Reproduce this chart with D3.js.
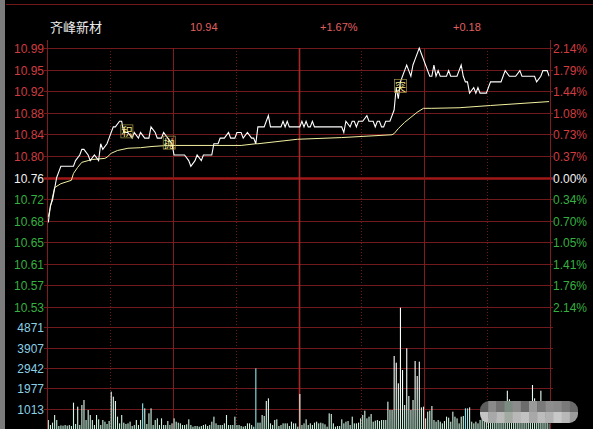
<!DOCTYPE html>
<html><head><meta charset="utf-8">
<script src="https://cdn.jsdelivr.net/npm/d3@7"></script>
<style>html,body{margin:0;padding:0;background:#000;overflow:hidden}</style>
</head><body>
<svg id="c" width="593" height="429"></svg>
<script>
// ---------------- data ----------------
const stockName = "齐峰新材";
const headerValues = ["10.94", "+1.67%", "+0.18"];
const preClose = 10.76;
const maxPct = 0.0214;
const priceTicks = ["10.99","10.95","10.92","10.88","10.84","10.80","10.76","10.72","10.68","10.65","10.61","10.57","10.53"];
const pctTicks = ["2.14%","1.79%","1.44%","1.08%","0.73%","0.37%","0.00%","0.34%","0.70%","1.05%","1.41%","1.76%","2.14%"];
const volTicks = [4871, 3907, 2942, 1977, 1013];

// price line: [minute, price]
const pricePts = [[0,10.68],[1,10.71],[2,10.72],[3,10.74],[4,10.76],[5,10.77],[6,10.78],[7,10.78],[9,10.78],[10,10.78],[12,10.78],[13,10.79],[15,10.80],[16,10.81],[17,10.81],[19,10.80],[20,10.79],[22,10.80],[24,10.79],[25,10.82],[26,10.81],[28,10.82],[29,10.83],[31,10.85],[32,10.85],[34,10.86],[35,10.86],[36,10.84],[38,10.84],[40,10.83],[41,10.84],[43,10.83],[44,10.84],[46,10.83],[48,10.83],[49,10.85],[51,10.84],[52,10.83],[54,10.83],[55,10.84],[57,10.83],[59,10.82],[60,10.80],[62,10.80],[64,10.80],[65,10.80],[67,10.79],[68,10.78],[70,10.79],[71,10.80],[73,10.79],[74,10.80],[78,10.80],[79,10.82],[81,10.82],[82,10.83],[84,10.83],[86,10.84],[87,10.83],[89,10.83],[90,10.84],[92,10.84],[93,10.83],[95,10.84],[97,10.83],[98,10.83],[99,10.82],[100,10.85],[103,10.85],[104,10.86],[105,10.87],[106,10.85],[111,10.85],[112,10.86],[113,10.85],[114,10.86],[115,10.85],[120,10.85],[121,10.86],[122,10.85],[123,10.86],[124,10.85],[125,10.85],[126,10.86],[127,10.85],[139,10.85],[140,10.85],[141,10.84],[142,10.86],[144,10.85],[145,10.86],[146,10.86],[147,10.85],[148,10.86],[150,10.86],[152,10.87],[153,10.86],[155,10.86],[156,10.85],[157,10.86],[158,10.86],[159,10.85],[160,10.85],[161,10.86],[162,10.86],[163,10.86],[164,10.87],[165,10.88],[166,10.92],[167,10.90],[168,10.93],[169,10.94],[170,10.95],[171,10.96],[172,10.95],[173,10.94],[174,10.96],[175,10.97],[177,10.99],[178,10.98],[179,10.97],[180,10.96],[181,10.95],[182,10.94],[183,10.94],[184,10.96],[185,10.94],[186,10.95],[187,10.94],[190,10.94],[191,10.95],[192,10.94],[195,10.94],[196,10.95],[197,10.96],[198,10.94],[199,10.93],[200,10.93],[201,10.91],[203,10.92],[204,10.91],[205,10.92],[206,10.91],[209,10.91],[210,10.92],[211,10.93],[216,10.93],[217,10.94],[218,10.95],[220,10.94],[221,10.94],[223,10.94],[225,10.95],[226,10.94],[228,10.94],[230,10.94],[232,10.94],[233,10.93],[235,10.94],[236,10.95],[238,10.95],[239,10.94]];

// average price line: [minute, price]
const avgPts = [[0,10.69],[3,10.742],[6,10.749],[11,10.755],[12,10.767],[14,10.778],[16,10.787],[19,10.790],[21,10.792],[27,10.794],[28,10.796],[30,10.803],[33,10.808],[38,10.812],[44,10.813],[49,10.815],[57,10.817],[92,10.817],[99,10.820],[100,10.820],[119,10.828],[140,10.831],[164,10.836],[165,10.838],[167,10.847],[170,10.858],[173,10.867],[176,10.876],[179,10.883],[183,10.883],[196,10.884],[211,10.888],[227,10.892],[239,10.895]];

// per-minute volume
const volume = [
 474,237,348,712,474,190,221,206,237,206,
 237,190,1297,285,1107,237,1186,1423,474,949,
 712,474,237,712,506,237,474,395,285,427,
 1818,1581,1376,633,316,712,348,285,316,395,
 190,237,474,237,474,1265,1028,285,791,1028,
 237,474,553,237,553,237,237,427,237,316,
 553,395,348,316,237,237,269,506,237,158,
 190,190,158,190,237,269,190,237,395,633,
 316,237,237,237,316,712,237,237,237,633,
 237,237,190,158,190,316,316,237,158,2925,
 348,348,712,664,1376,1502,316,237,474,506,
 190,237,316,316,316,190,395,316,316,158,
 1708,237,316,506,237,316,237,348,395,316,
 348,316,269,158,791,759,316,158,190,190,
 506,316,395,427,237,633,316,316,348,553,
 712,917,553,633,759,395,443,474,427,474,
 474,474,1344,949,949,3511,3194,2214,5803,2846,
 1186,3874,1613,949,1423,3273,2562,3242,1075,1107,
 553,870,917,1139,474,395,474,395,316,427,
 633,585,395,870,633,553,316,633,664,1028,
 1028,1075,395,316,395,316,474,553,633,712,
 553,474,633,791,553,474,633,712,870,1864,
 1456,633,553,712,791,633,553,474,633,712,
 870,2135,1502,791,633,1864,1028,553,474,316,
 237];
const downBars = [45, 99, 199, 200];

const markerText = ["积", "抛", "突"];
const markerMinute = [37.5, 57.7, 168];
const markerPrice = [10.842, 10.822, 10.923];

const watermarkTop = ["#5e5e5e","#8a8a8a","#727272","#7d8c82","#8c8c8c","#6c6c6c","#9a9a9a","#7a7a7a","#8e8e8e","#8a8a8a","#7a7a7a","#6a6a6a"];
const watermarkBottom = ["#c4c4c4","#a8a8a8","#bababa","#a2aaa2","#b8b8b8","#c2c2c2","#a8a8a8","#bcbcbc","#b2b2b2","#c8c8c8","#b8b8b8","#9c9c9c"];

// ---------------- drawing ----------------
const svg = d3.select("#c");
const L = 47, R = 550, T = 48, M = 307, B = 430;
const FONT = "'Liberation Sans', Arial, sans-serif";

const xT = d3.scaleLinear().domain([0, 240]).range([L, R]);
const OFF = 1.3;
const dev = preClose * maxPct;
const yP = d3.scaleLinear().domain([preClose - dev, preClose + dev]).range([M, T]);
const volStep = volTicks[0] - volTicks[1];
const yV = d3.scaleLinear().domain([0, volTicks[0] + volStep]).range([B, M]);

svg.append("rect").attr("width", 593).attr("height", 429).attr("fill", "#000");

// frame bits
svg.append("rect").attr("x", 0).attr("y", 0).attr("width", 5).attr("height", 429).attr("fill", "#7c7c7c");
svg.append("line").attr("x1", 6).attr("x2", 593).attr("y1", 4.5).attr("y2", 4.5)
  .attr("stroke", "#6e1818").attr("stroke-width", 1);

// header
svg.append("text").attr("x", 50).attr("y", 26).attr("dominant-baseline", "central")
  .attr("font-family", "'Noto Sans CJK SC', sans-serif").attr("font-size", 13)
  .attr("fill", "#ececec").text(stockName);
const headerX = [190, 320, 453];
headerValues.forEach((t, i) => {
  svg.append("text").attr("x", headerX[i]).attr("y", 26.5).attr("dominant-baseline", "central")
    .attr("font-family", FONT).attr("font-size", 11).attr("fill", "#e06060").text(t);
});

// horizontal price gridlines + labels
const tickY = i => Math.round(yP(preClose + dev * (6 - i) / 6)) + 0.5;
priceTicks.forEach((t, i) => {
  const y = tickY(i);
  const mid = i === 6;
  svg.append("line").attr("x1", 44).attr("x2", 553).attr("y1", y).attr("y2", y)
    .attr("stroke", mid ? "#a01818" : "#701a1e").attr("stroke-width", mid ? 2.5 : 1);
  const col = i < 6 ? "#d03c40" : (i === 6 ? "#f2f2f2" : "#36b040");
  svg.append("text").attr("x", 44).attr("y", y).attr("text-anchor", "end")
    .attr("dominant-baseline", "central").attr("font-family", FONT).attr("font-size", 12)
    .attr("fill", col).text(t);
  svg.append("text").attr("x", 553).attr("y", y).attr("text-anchor", "start")
    .attr("dominant-baseline", "central").attr("font-family", FONT).attr("font-size", 12)
    .attr("fill", col).text(pctTicks[i]);
});

// volume gridlines + labels
volTicks.forEach(v => {
  const y = Math.round(yV(v)) + 0.5;
  svg.append("line").attr("x1", 44).attr("x2", 553).attr("y1", y).attr("y2", y)
    .attr("stroke", "#701a1e").attr("stroke-width", 1);
  svg.append("text").attr("x", 44).attr("y", y).attr("text-anchor", "end")
    .attr("dominant-baseline", "central").attr("font-family", FONT).attr("font-size", 12)
    .attr("fill", "#8ad0e6").text(v);
});

// vertical gridlines every 30 minutes
d3.range(0, 241, 30).forEach((m, k) => {
  const x = Math.round(xT(m)) + 0.5;
  const border = k === 0 || k === 8;
  const noon = k === 4;
  const solid = k % 2 === 0;
  svg.append("line").attr("x1", x).attr("x2", x).attr("y1", border ? 40 : T).attr("y2", 429)
    .attr("stroke", noon ? "#a82828" : (solid ? "#801c20" : "#6a1a1e"))
    .attr("stroke-width", noon ? 1.6 : 1)
    .attr("stroke-dasharray", solid ? null : "1,2");
});

// clip for data
const defs = svg.append("defs");
defs.append("clipPath").attr("id", "plot").append("rect")
  .attr("x", L + 0.5).attr("y", T - 2).attr("width", R - L - 1).attr("height", B - T + 2);
const grad = defs.append("linearGradient").attr("id", "vg")
  .attr("gradientUnits", "userSpaceOnUse").attr("x1", 0).attr("x2", 0).attr("y1", M).attr("y2", B);
grad.append("stop").attr("offset", "0%").attr("stop-color", "#ffffff");
grad.append("stop").attr("offset", "65%").attr("stop-color", "#f6fff9");
grad.append("stop").attr("offset", "100%").attr("stop-color", "#c2f0da");

const g = svg.append("g").attr("clip-path", "url(#plot)");

// volume bars
g.selectAll("rect.v").data(volume).enter().append("rect")
  .attr("x", (d, i) => xT(i) + OFF - 0.5).attr("width", 1.1)
  .attr("y", d => yV(d)).attr("height", d => B - yV(d))
  .attr("fill", (d, i) => downBars.includes(i) ? "#8fe6ec" : "url(#vg)");

// average line
const line = d3.line().x(d => xT(d[0]) + OFF).y(d => yP(d[1]));
g.append("path").datum(avgPts).attr("d", line).attr("fill", "none")
  .attr("stroke", "#f2f0a0").attr("stroke-width", 1);
// price line
g.append("path").datum(pricePts).attr("d", line).attr("fill", "none")
  .attr("stroke", "#ffffff").attr("stroke-width", 1.1);

// markers
markerText.forEach((t, i) => {
  const cx = xT(markerMinute[i]) + OFF, cy = yP(markerPrice[i]);
  svg.append("rect").attr("x", cx - 6).attr("y", cy - 6.5).attr("width", 12).attr("height", 13)
    .attr("fill", "none").attr("stroke", "#a89a48").attr("stroke-width", 0.7);
  svg.append("text").attr("x", cx).attr("y", cy).attr("text-anchor", "middle")
    .attr("dominant-baseline", "central").attr("font-family", "'Noto Sans CJK SC', sans-serif")
    .attr("font-size", 11).attr("fill", "#f4ea90").text(t);
});

// mosaic watermark
const wm = { x: 480, y: 401, w: 98, h: 22 };
defs.append("clipPath").attr("id", "wmc").append("rect")
  .attr("x", wm.x).attr("y", wm.y).attr("width", wm.w).attr("height", wm.h).attr("rx", 9);
const wg = svg.append("g").attr("clip-path", "url(#wmc)");
const cw = wm.w / watermarkTop.length;
[watermarkTop, watermarkBottom].forEach((row, r) => {
  row.forEach((c, j) => {
    wg.append("rect").attr("x", wm.x + j * cw).attr("y", wm.y + r * wm.h / 2)
      .attr("width", cw + 0.5).attr("height", wm.h / 2 + 0.5).attr("fill", c);
  });
});
</script>
</body></html>
